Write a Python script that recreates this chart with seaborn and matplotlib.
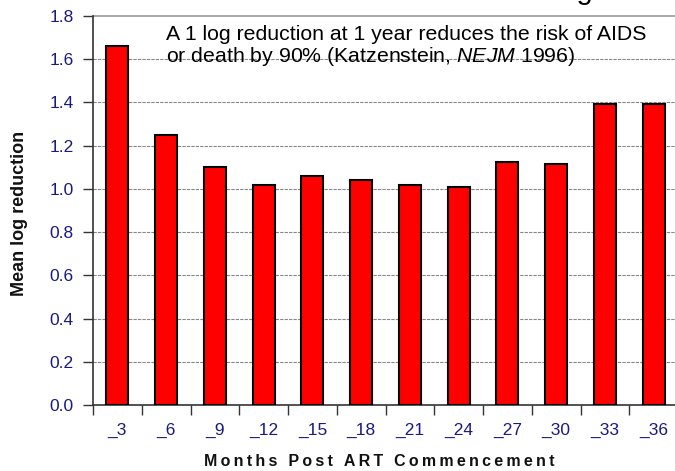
import matplotlib
matplotlib.use("Agg")
import matplotlib.pyplot as plt
import seaborn as sns
import pandas as pd

months = ["_3", "_6", "_9", "_12", "_15", "_18", "_21", "_24", "_27", "_30", "_33", "_36"]
mean_log_reduction = [1.66, 1.25, 1.10, 1.02, 1.06, 1.04, 1.02, 1.01, 1.125, 1.115, 1.395, 1.395]
y_ticks = [0.0, 0.2, 0.4, 0.6, 0.8, 1.0, 1.2, 1.4, 1.6, 1.8]

df = pd.DataFrame({"month": months, "value": mean_log_reduction})

sns.set_theme(style="white")
plt.rcParams["font.family"] = ["Liberation Sans", "DejaVu Sans"]
plt.rcParams["mathtext.fontset"] = "custom"
plt.rcParams["mathtext.rm"] = "Liberation Sans"
plt.rcParams["mathtext.it"] = "Liberation Sans:italic"

fig = plt.figure(figsize=(6.75, 4.71), dpi=100)
ax = fig.add_axes([93 / 675, 66 / 471, 585 / 675, 389 / 471])

sns.barplot(data=df, x="month", y="value", color="#ff0000", width=0.45,
            edgecolor="black", linewidth=1.5, saturation=1, ax=ax, zorder=3)

ax.set_ylim(0, 1.8)
ax.set_xlim(-0.5, 11.5)
ax.set_yticks(y_ticks)
ax.set_yticklabels([f"{t:.1f}" for t in y_ticks])

# gridlines
for t in y_ticks[1:-1]:
    ax.axhline(t, color="#888888", lw=0.8, ls=(0, (3, 1)), zorder=1)
ax.axhline(1.8, color="#999999", lw=1.2, zorder=1, clip_on=False)

for s in ["top", "right"]:
    ax.spines[s].set_visible(False)
for s in ["left", "bottom"]:
    ax.spines[s].set_color("#333333")
    ax.spines[s].set_linewidth(1.2)

ax.tick_params(axis="y", which="both", direction="out", length=7, width=1,
               color="#333333", labelcolor="#1a1a80", labelsize=12.5, pad=7, left=True)
# x ticks between categories
ax.set_xticks(range(len(months)))
ax.set_xticklabels(months)
ax.tick_params(axis="x", which="major", length=0, labelcolor="#1a1a80",
               labelsize=12.5, pad=13)
ax.set_xticks([i + 0.5 for i in range(-1, len(months))], minor=True)
ax.tick_params(axis="x", which="minor", direction="out", length=7, width=1,
               color="#333333", bottom=True)

xlabel = "Months Post ART Commencement"
spaced = "\u2009".join(xlabel)
ax.set_xlabel(spaced, fontsize=11.5, fontweight="bold", color="#111111")
ax.xaxis.set_label_coords(0.49, (405 - 462) / 389)
ax.xaxis.label.set_va("center")
ax.set_ylabel("Mean log reduction", fontsize=13, fontweight="bold", color="#111111")
ax.yaxis.set_label_coords((20 - 93) / 585, 0.492)
ax.yaxis.label.set_va("center")

ax.text(1.0, (405 - 40) / 216.1,
        "A 1 log reduction at 1 year reduces the risk of AIDS",
        fontsize=15.3, color="black", va="baseline", ha="left", zorder=5)
ax.text(1.0, (405 - 62) / 216.1,
        r"or death by 90% (Katzenstein, $\mathit{NEJM}$ 1996)",
        fontsize=15.3, color="black", va="baseline", ha="left", zorder=5)

fig.text(0.607, 1.002, "Mean Reduction in Viral Log", fontsize=21,
         ha="center", va="baseline", color="black")

fig.savefig("out.png", dpi=100)
